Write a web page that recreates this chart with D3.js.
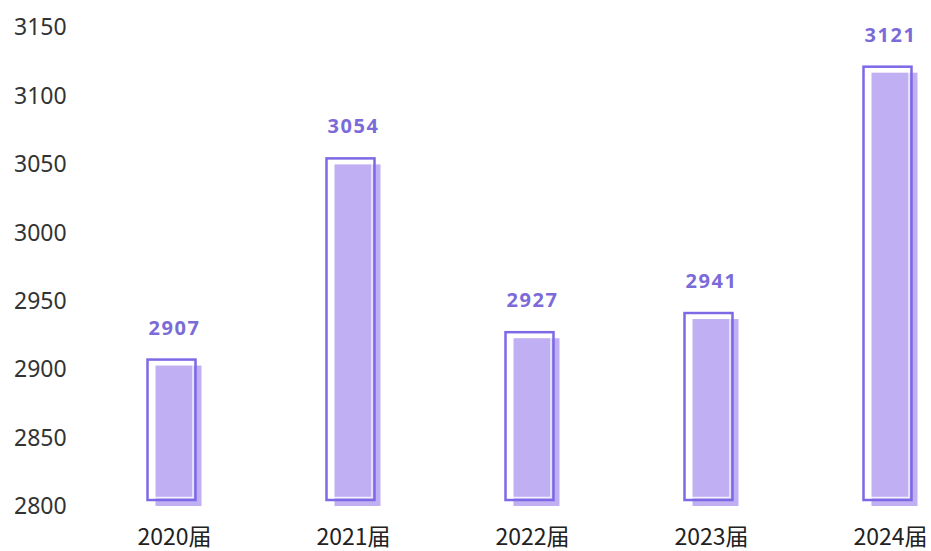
<!DOCTYPE html>
<html lang="zh">
<head>
  <meta charset="UTF-8">
  <title>届别人数</title>
  <script src="https://d3js.org/d3.v7.min.js"></script>
  <style>
    body { margin: 0; background: #fff; }
    svg { display: block; }
  </style>
</head>
<body>
  <div id="chart"></div>
  <script>
    // 数据
    const categories = ["2020届", "2021届", "2022届", "2023届", "2024届"];
    const values = [2907, 3054, 2927, 2941, 3121];
    const yTicks = [2800, 2850, 2900, 2950, 3000, 3050, 3100, 3150];

    const width = 931, height = 551;
    const svg = d3.select("#chart").append("svg")
      .attr("width", width)
      .attr("height", height);

    const x = d3.scaleBand()
      .domain(categories)
      .range([82, 977]);

    const y = d3.scaleLinear()
      .domain([2800, 3150])
      .range([506, 27]);

    const barW = 48;
    const dx = 8, dy = 6; // 阴影偏移

    // y 轴刻度文字
    svg.append("g")
      .selectAll("text")
      .data(yTicks)
      .join("text")
      .attr("x", 14)
      .attr("y", d => y(d))
      .attr("dy", "0.36em")
      .attr("font-family", "'Noto Sans', 'Liberation Sans', sans-serif")
      .attr("font-size", 23)
      .attr("fill", "#333")
      .text(d => d);

    const bars = svg.append("g")
      .selectAll("g")
      .data(categories.map((c, i) => ({ cat: c, val: values[i] })))
      .join("g")
      .attr("transform", d => `translate(${x(d.cat) + x.bandwidth() / 2 - barW / 2},0)`);

    // 填充
    bars.append("rect")
      .attr("x", dx)
      .attr("y", d => y(d.val) + dy)
      .attr("width", barW - 2)
      .attr("height", d => y(2800) - y(d.val) - dy)
      .attr("fill", "#b5a2f1")
      .attr("opacity", 0.85);

    // 外框
    bars.append("rect")
      .attr("x", 0)
      .attr("y", d => y(d.val))
      .attr("width", barW)
      .attr("height", d => y(2800) - y(d.val) - dy)
      .attr("fill", "none")
      .attr("stroke", "#7d68e6")
      .attr("stroke-width", 2.5);

    // 内侧白线
    bars.append("rect")
      .attr("x", 2.5)
      .attr("y", d => y(d.val) + 2.5)
      .attr("width", barW - 5)
      .attr("height", d => y(2800) - y(d.val) - dy - 5)
      .attr("fill", "none")
      .attr("stroke", "#fff")
      .attr("stroke-opacity", 0.8)
      .attr("stroke-width", 1.5);

    // 数值标签
    bars.append("text")
      .attr("x", barW / 2 + 3)
      .attr("y", d => y(d.val) - 25)
      .attr("text-anchor", "middle")
      .attr("font-family", "'Noto Sans', 'Liberation Sans', sans-serif")
      .attr("font-weight", "bold")
      .attr("font-size", 20)
      .attr("letter-spacing", 1.5)
      .attr("fill", "#7b6bd9")
      .text(d => d.val);

    // 类别标签
    svg.append("g")
      .selectAll("text")
      .data(categories)
      .join("text")
      .attr("x", d => x(d) + x.bandwidth() / 2 + 3)
      .attr("y", 545)
      .attr("text-anchor", "middle")
      .attr("font-family", "'Noto Sans CJK SC', sans-serif")
      .attr("font-size", 23)
      .attr("fill", "#222")
      .text(d => d);
  </script>
</body>
</html>
